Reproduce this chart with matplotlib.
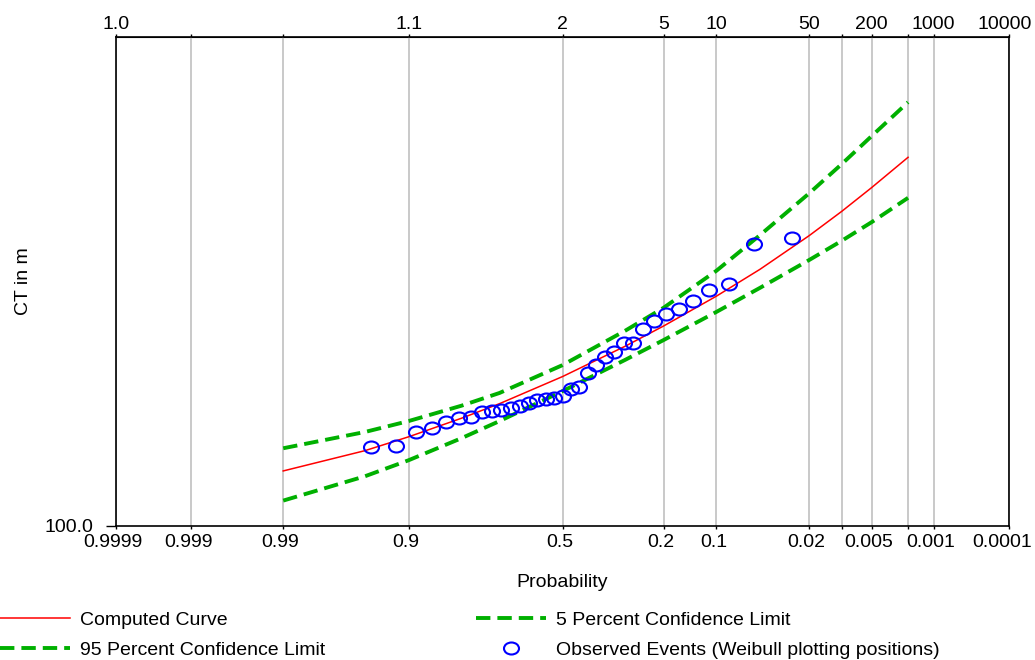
from statistics import NormalDist

import matplotlib.pyplot as plt
import matplotlib.transforms as mtransforms
from matplotlib.path import Path
from matplotlib.ticker import NullLocator

plt.rcParams['font.family'] = ['Liberation Sans', 'DejaVu Sans']

# exceedance probabilities where the frequency curve and limits are given
curve_prob = [0.99, 0.95, 0.9, 0.8, 0.7, 0.5, 0.3, 0.2, 0.1, 0.05, 0.02, 0.01, 0.005, 0.002]
computed = [129.6, 142.6, 152.2, 166.1, 177.9, 202.1, 233.3, 256.4, 295.1, 334.9, 392.3, 440.1, 492.3, 567.5]
limit_05 = [144.2, 155.7, 163.9, 176.2, 187.1, 213.3, 251.0, 279.4, 332.6, 393.4, 478.8, 549.9, 627.5, 735.6]
limit_95 = [112.7, 126.4, 136.3, 151.2, 163.9, 188.7, 218.8, 240.0, 274.0, 306.9, 349.8, 383.1, 418.3, 468.9]

# observed events, largest first (35 year record, lowest one below the chart)
n_years = 35
observed = [387.6, 376.9, 312.5, 303.8, 288.5, 277.4, 271.0, 262.6, 252.5, 237.0,
            236.2, 226.6, 222.0, 213.4, 205.9, 192.4, 190.4, 184.5, 182.3, 181.9,
            181.0, 178.2, 176.2, 174.6, 172.5, 171.9, 170.8, 167.1, 166.5, 163.0,
            158.9, 155.9, 145.9, 145.3]

prob_ticks = [0.9999, 0.999, 0.99, 0.9, 0.5, 0.2, 0.1, 0.02, 0.01, 0.005, 0.002, 0.001, 0.0001]
prob_labels = ['0.9999', '0.999', '0.99', '0.9', '0.5', '0.2', '0.1', '0.02', '', '0.005', '', '0.001', '0.0001']
period_labels = ['1.0', '', '', '1.1', '2', '5', '10', '50', '', '200', '', '1000', '10000']


def zval(p):
    # normal probability scale, exceedance decreasing to the right
    return NormalDist().inv_cdf(1 - p)


curve_x = [zval(p) for p in curve_prob]
obs_prob = [(m + 1) / (n_years + 1) for m in range(len(observed))]  # Weibull
obs_x = [zval(p) for p in obs_prob]
tick_x = [zval(p) for p in prob_ticks]

fig = plt.figure(figsize=(10.35, 6.6), dpi=100)
ax = fig.add_axes([116 / 1035, 134 / 660, 893 / 1035, 489 / 660])

ellipse = Path(Path.unit_circle().vertices * [1.25, 1.0], Path.unit_circle().codes)

green = '#00b000'
l_comp, = ax.plot(curve_x, computed, color='red', lw=1.1, label='Computed Curve')
l_05, = ax.plot(curve_x, limit_05, color=green, lw=2.8, dashes=(3.7, 1.8),
                label='5 Percent Confidence Limit')
l_95, = ax.plot(curve_x, limit_95, color=green, lw=2.8, dashes=(3.7, 1.8),
                label='95 Percent Confidence Limit')
l_obs, = ax.plot(obs_x, observed, ls='none', marker=ellipse, ms=10.8, mfc='none',
                 mec='blue', mew=1.5, zorder=5,
                 label='Observed Events (Weibull plotting positions)')

ax.set_xlim(tick_x[0], tick_x[-1])
ax.set_yscale('log')
ax.set_ylim(100, 1000)
ax.set_yticks([100])
ax.set_yticklabels(['100.0'])
ax.yaxis.set_minor_locator(NullLocator())

ax.set_xticks(tick_x)
ax.set_xticklabels(prob_labels)
ax.grid(axis='x', color='#c0c0c0', lw=1.2)
ax.set_axisbelow(True)

for s in ax.spines.values():
    s.set_linewidth(1.2)

ax.tick_params(axis='x', direction='out', length=2.5, width=1, pad=3, labelsize=14)
ax.tick_params(axis='y', direction='out', length=7, width=1, pad=9, labelsize=14)

top = ax.secondary_xaxis('top')
top.set_xticks(tick_x)
top.set_xticklabels(period_labels)
top.tick_params(direction='out', length=2, width=1, pad=1, labelsize=14)

# nudge labels slightly left like the original, the last ones a bit more
for lbl in ax.get_xticklabels():
    lbl.set_transform(lbl.get_transform() + mtransforms.ScaledTranslation(-0.03, 0, fig.dpi_scale_trans))
for lbl in (ax.get_xticklabels()[-1], top.get_xticklabels()[-1]):
    lbl.set_transform(lbl.get_transform() + mtransforms.ScaledTranslation(-0.04, 0, fig.dpi_scale_trans))

ax.set_xlabel('Probability', fontsize=14)
ax.xaxis.set_label_coords(0.5, -0.098)
ax.set_ylabel('CT in m', fontsize=14)
ax.yaxis.set_label_coords(-0.094, 0.5)

leg_kw = dict(loc='upper left', frameon=False, borderpad=0, borderaxespad=0,
              handlelength=3.6, handletextpad=0.5, labelspacing=0.66, fontsize=14)
fig.legend(handles=[l_comp, l_95], bbox_to_anchor=(0.0, 1 - 611 / 660), **leg_kw)
fig.legend(handles=[l_05, l_obs], bbox_to_anchor=(476 / 1035, 1 - 611 / 660), **leg_kw)

fig.savefig('out.png', dpi=100)
